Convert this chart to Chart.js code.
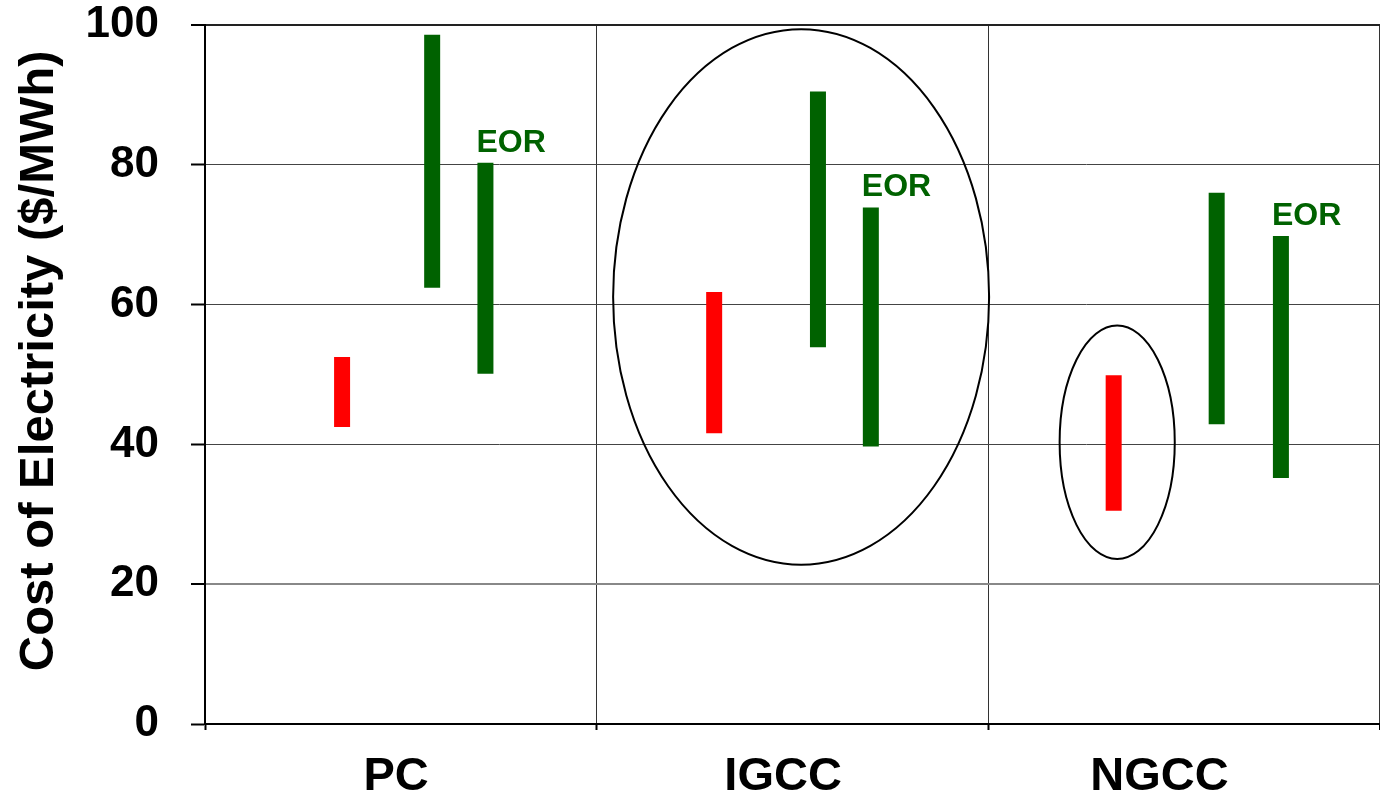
<!DOCTYPE html>
<html>
<head>
<meta charset="utf-8">
<script src="https://cdn.jsdelivr.net/npm/chart.js@4/dist/chart.umd.min.js"></script>
<style>
  body { margin: 0; background: #fff; }
  #wrap { width: 1380px; height: 798px; }
</style>
</head>
<body>
<div id="wrap"><canvas id="coe"></canvas></div>
<script>
// plant types along the x axis, and where their names sit on it
const categories = ['PC', 'IGCC', 'NGCC'];
const categoryLabelAt = [0.488, 1.476, 2.437];

// cost of electricity ranges ($/MWh), [low, high] per plant
const noCaptureLow  = [42.5, 41.6, 30.5];
const noCaptureHigh = [52.5, 61.8, 49.9];
const captureLow    = [62.4, 53.9, 42.9];
const captureHigh   = [98.6, 90.5, 76.0];
const eorLow        = [50.1, 39.7, 35.2];
const eorHigh       = [80.3, 73.9, 69.8];

// where each range sits inside its category slot (0..1)
const noCaptureSlot = [0.35, 0.30, 0.32];
const captureSlot   = [0.58, 0.565, 0.583];
const eorSlot       = [0.716, 0.70, 0.747];

const yTicks = [0, 20, 40, 60, 80, 100];

// ellipses drawn round groups: [centre x, centre y, half width, half height] in axis units
const rings = [
  [1.522, 61.1, 0.48, 38.3],
  [2.329, 40.3, 0.147, 16.7]
];

const RED = '#ff0000';
const GREEN = '#006200';
const FONT = "'Liberation Sans', Arial, sans-serif";

function rangeSets(lows, highs, slots, color, tag) {
  return lows.map((lo, i) => ({
    label: tag,
    data: [{x: i + slots[i], y: lo}, {x: i + slots[i], y: highs[i]}],
    borderColor: color,
    backgroundColor: color,
    borderWidth: 16,
    borderCapStyle: 'butt',
    pointRadius: 0,
    tension: 0
  }));
}

const datasets = [].concat(
  rangeSets(noCaptureLow, noCaptureHigh, noCaptureSlot, RED, 'noCapture'),
  rangeSets(captureLow, captureHigh, captureSlot, GREEN, 'capture'),
  rangeSets(eorLow, eorHigh, eorSlot, GREEN, 'eor')
);

const extras = {
  id: 'extras',
  afterDatasetsDraw(chart) {
    const ctx = chart.ctx;
    const xs = chart.scales.x, ys = chart.scales.y;
    ctx.save();
    ctx.strokeStyle = '#000';
    ctx.lineWidth = 2;
    rings.forEach(r => {
      const cx = xs.getPixelForValue(r[0]);
      const cy = ys.getPixelForValue(r[1]);
      const rx = xs.getPixelForValue(r[0] + r[2]) - cx;
      const ry = cy - ys.getPixelForValue(r[1] + r[3]);
      ctx.beginPath();
      ctx.ellipse(cx, cy, rx, ry, 0, 0, Math.PI * 2);
      ctx.stroke();
    });
    ctx.fillStyle = GREEN;
    ctx.font = 'bold 32px ' + FONT;
    ctx.textAlign = 'left';
    ctx.textBaseline = 'bottom';
    eorHigh.forEach((hi, i) => {
      const px = xs.getPixelForValue(i + eorSlot[i]) - 9;
      const py = ys.getPixelForValue(hi) - 4;
      ctx.fillText('EOR', px, py);
    });
    ctx.restore();
  }
};

const xTickValues = [0, 1, 2, 3].concat(categoryLabelAt).sort((a, b) => a - b);

new Chart(document.getElementById('coe'), {
  type: 'line',
  data: { datasets: datasets },
  options: {
    responsive: true,
    maintainAspectRatio: false,
    animation: false,
    layout: { padding: { top: 25, right: 0, bottom: 0, left: 0 } },
    plugins: {
      legend: { display: false },
      tooltip: { enabled: false }
    },
    scales: {
      x: {
        type: 'linear',
        min: 0,
        max: 3,
        afterBuildTicks: s => { s.ticks = xTickValues.map(v => ({value: v})); },
        afterFit: s => { s.height = 74; s.paddingRight = 0; s.paddingLeft = 0; },
        border: { display: true, color: '#000', width: 2 },
        grid: {
          color: c => (c.tick && Number.isInteger(c.tick.value)) ? '#333' : 'rgba(0,0,0,0)',
          lineWidth: c => (c.tick && c.tick.value === 3) ? 2 : 1,
          tickColor: c => (c.tick && Number.isInteger(c.tick.value)) ? '#000' : 'rgba(0,0,0,0)',
          tickLength: 6,
          tickWidth: 2
        },
        ticks: {
          autoSkip: false,
          maxRotation: 0,
          padding: 19,
          color: '#000',
          font: { family: FONT, size: 47, weight: 'bold' },
          callback: v => {
            const k = categoryLabelAt.indexOf(v);
            return k < 0 ? '' : categories[k];
          }
        }
      },
      y: {
        min: 0,
        max: 100,
        afterBuildTicks: s => { s.ticks = yTicks.map(v => ({value: v})); },
        afterFit: s => { s.width = 205; s.paddingTop = 0; s.paddingBottom = 0; },
        border: { display: true, color: '#000', width: 2 },
        grid: {
          color: c => c.tick && c.tick.value === 20 ? '#888' : (c.tick && c.tick.value === 100 ? '#222' : '#444'),
          lineWidth: c => c.tick && (c.tick.value === 20 || c.tick.value === 100) ? 2 : 1,
          tickColor: '#000',
          tickLength: 14,
          tickWidth: 2
        },
        ticks: {
          padding: 32,
          color: '#000',
          font: { family: FONT, size: 44, weight: 'bold' }
        },
        title: {
          display: true,
          text: '  Cost of Electricity ($/MWh)',
          color: '#000',
          padding: { top: 10, bottom: 0 },
          font: { family: FONT, size: 49, weight: 'bold' }
        }
      }
    }
  },
  plugins: [extras]
});
</script>
</body>
</html>
